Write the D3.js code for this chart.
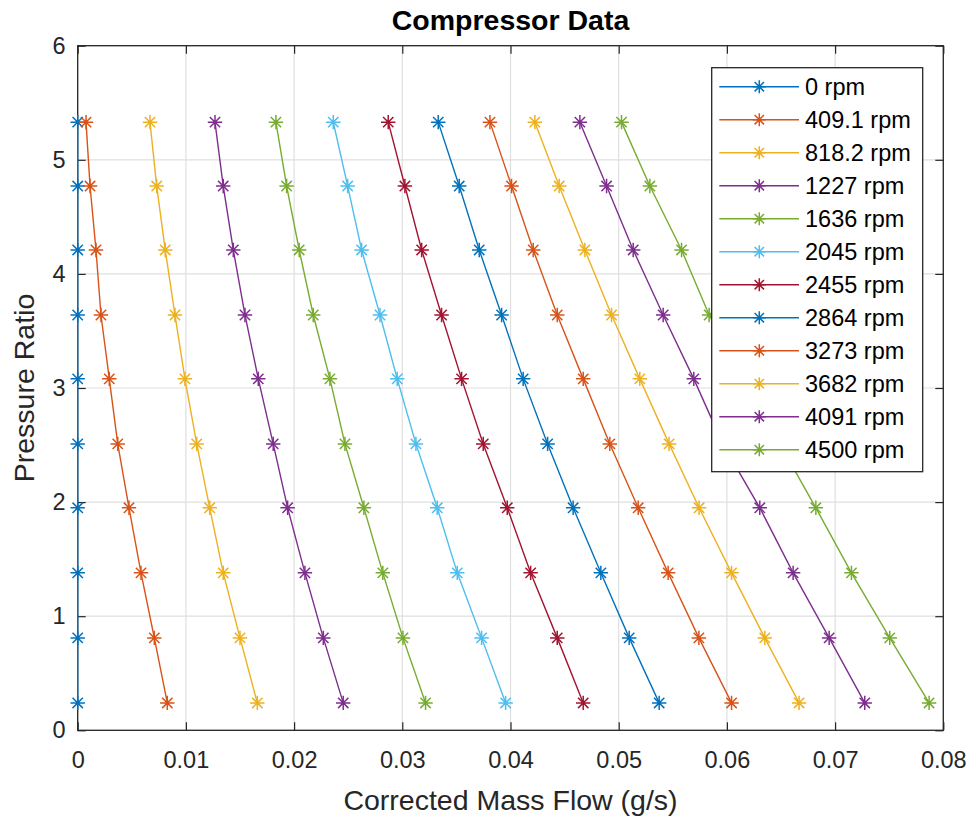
<!DOCTYPE html>
<html>
<head>
<meta charset="utf-8">
<script src="https://cdn.jsdelivr.net/npm/d3@7"></script>
<style>
  html, body { margin: 0; padding: 0; background: #fff; }
  svg { display: block; }
  text { font-family: "Liberation Sans", Arial, Helvetica, sans-serif; }
</style>
</head>
<body>
<svg id="chart" width="976" height="819"></svg>
<script>
// ---------------- data ----------------
const pressureRatio = [0.24, 0.81, 1.38, 1.95, 2.51, 3.08, 3.64, 4.21, 4.77, 5.33];

const speedLabels = ["0 rpm", "409.1 rpm", "818.2 rpm", "1227 rpm", "1636 rpm", "2045 rpm",
                     "2455 rpm", "2864 rpm", "3273 rpm", "3682 rpm", "4091 rpm", "4500 rpm"];

const flow0    = [0, 0, 0, 0, 0, 0, 0, 0, 0, 0];
const flow409  = [0.00828, 0.00708, 0.00585, 0.00474, 0.00370, 0.00292, 0.00215, 0.00169, 0.00114, 0.00077];
const flow818  = [0.01660, 0.01500, 0.01345, 0.01220, 0.01100, 0.00991, 0.00899, 0.00809, 0.00730, 0.00668];
const flow1227 = [0.02454, 0.02270, 0.02100, 0.01940, 0.01807, 0.01669, 0.01546, 0.01438, 0.01345, 0.01269];
const flow1636 = [0.03215, 0.03006, 0.02820, 0.02645, 0.02470, 0.02331, 0.02177, 0.02047, 0.01931, 0.01832];
const flow2045 = [0.03955, 0.03733, 0.03508, 0.03323, 0.03126, 0.02953, 0.02794, 0.02624, 0.02495, 0.02362];
const flow2455 = [0.04672, 0.04432, 0.04186, 0.03970, 0.03748, 0.03548, 0.03363, 0.03179, 0.03024, 0.02870];
const flow2864 = [0.05374, 0.05097, 0.04835, 0.04579, 0.04343, 0.04117, 0.03918, 0.03711, 0.03526, 0.03332];
const flow3273 = [0.06043, 0.05741, 0.05457, 0.05180, 0.04918, 0.04672, 0.04432, 0.04210, 0.04010, 0.03810];
const flow3682 = [0.06667, 0.06350, 0.06043, 0.05743, 0.05466, 0.05195, 0.04934, 0.04687, 0.04450, 0.04225];
const flow4091 = [0.07274, 0.06945, 0.06612, 0.06304, 0.05962, 0.05694, 0.05411, 0.05134, 0.04888, 0.04641];
const flow4500 = [0.07869, 0.07505, 0.07151, 0.06822, 0.06489, 0.06156, 0.05836, 0.05581, 0.05288, 0.05026];

const flows = [flow0, flow409, flow818, flow1227, flow1636, flow2045,
               flow2455, flow2864, flow3273, flow3682, flow4091, flow4500];

const seriesColors = ["#0072BD", "#D95319", "#EDB120", "#7E2F8E", "#77AC30", "#4DBEEE",
                      "#A2142F", "#0072BD", "#D95319", "#EDB120", "#7E2F8E", "#77AC30"];

const xTicks = [0, 0.01, 0.02, 0.03, 0.04, 0.05, 0.06, 0.07, 0.08];
const xTickLabels = ["0", "0.01", "0.02", "0.03", "0.04", "0.05", "0.06", "0.07", "0.08"];
const yTicks = [0, 1, 2, 3, 4, 5, 6];
const yTickLabels = ["0", "1", "2", "3", "4", "5", "6"];

const titleText = "Compressor Data";
const xLabelText = "Corrected Mass Flow (g/s)";
const yLabelText = "Pressure Ratio";

// ---------------- layout ----------------
const L = 77.7, R = 943.3, T = 45.7, B = 730.3;
const axisColor = "#262626";
const gridColor = "#dfdfdf";

const svg = d3.select("#chart");
const x = d3.scaleLinear().domain([0, 0.08]).range([L, R]);
const y = d3.scaleLinear().domain([0, 6]).range([B, T]);

// grid
const grid = svg.append("g");
grid.selectAll("line.gx").data(xTicks).join("line")
  .attr("x1", d => x(d)).attr("x2", d => x(d)).attr("y1", T).attr("y2", B)
  .attr("stroke", gridColor).attr("stroke-width", 1.2);
grid.selectAll("line.gy").data(yTicks).join("line")
  .attr("y1", d => y(d)).attr("y2", d => y(d)).attr("x1", L).attr("x2", R)
  .attr("stroke", gridColor).attr("stroke-width", 1.2);

// axes with inward ticks
function styleAxis(g) {
  g.select(".domain").remove();
  g.selectAll(".tick line").attr("stroke", axisColor).attr("stroke-width", 1.2);
  g.selectAll(".tick text").attr("fill", axisColor).style("font-size", "23.5px");
}
const xFmt = (d, i) => xTickLabels[i];
const yFmt = (d, i) => yTickLabels[i];

svg.append("g").attr("transform", `translate(0,${B})`)
  .call(d3.axisBottom(x).tickValues(xTicks).tickFormat(xFmt).tickSizeInner(-8).tickSizeOuter(0).tickPadding(21))
  .call(styleAxis);
svg.append("g").attr("transform", `translate(0,${T})`)
  .call(d3.axisTop(x).tickValues(xTicks).tickFormat("").tickSizeInner(-8).tickSizeOuter(0))
  .call(styleAxis);
svg.append("g").attr("transform", `translate(${L},0)`)
  .call(d3.axisLeft(y).tickValues(yTicks).tickFormat(yFmt).tickSizeInner(-8).tickSizeOuter(0).tickPadding(12))
  .call(styleAxis);
svg.append("g").attr("transform", `translate(${R},0)`)
  .call(d3.axisRight(y).tickValues(yTicks).tickFormat("").tickSizeInner(-8).tickSizeOuter(0))
  .call(styleAxis);

// box
svg.append("rect").attr("x", L).attr("y", T).attr("width", R - L).attr("height", B - T)
  .attr("fill", "none").attr("stroke", axisColor).attr("stroke-width", 1.3);

// star marker (plus + cross)
function starPath(size) {
  const h = size, d = size * 0.72;
  return `M${-h},0L${h},0M0,${-h}L0,${h}M${-d},${-d}L${d},${d}M${-d},${d}L${d},${-d}`;
}
const markerD = starPath(7.2);

// series
const line = d3.line().x(d => x(d[0])).y(d => y(d[1]));
const seriesG = svg.append("g");
flows.forEach((f, i) => {
  const pts = f.map((v, j) => [v, pressureRatio[j]]);
  const g = seriesG.append("g");
  g.append("path").attr("d", line(pts)).attr("fill", "none")
    .attr("stroke", seriesColors[i]).attr("stroke-width", 1.4);
  g.selectAll("path.m").data(pts).join("path").attr("class", "m")
    .attr("transform", d => `translate(${x(d[0])},${y(d[1])})`)
    .attr("d", markerD).attr("fill", "none")
    .attr("stroke", seriesColors[i]).attr("stroke-width", 1.5);
});

// legend
const lgX = 711.7, lgY = 67.7, lgW = 211, lgH = 404, rowH = 33, row0 = 86.7;
const lg = svg.append("g");
lg.append("rect").attr("x", lgX).attr("y", lgY).attr("width", lgW).attr("height", lgH)
  .attr("fill", "#fff").attr("stroke", axisColor).attr("stroke-width", 1.3);
const rows = lg.selectAll("g.row").data(speedLabels).join("g").attr("class", "row")
  .attr("transform", (d, i) => `translate(0,${row0 + i * rowH})`);
rows.append("line").attr("x1", 719.3).attr("x2", 799).attr("y1", 0).attr("y2", 0)
  .attr("stroke", (d, i) => seriesColors[i]).attr("stroke-width", 1.4);
rows.append("path").attr("transform", "translate(759.3,0)").attr("d", starPath(6.5))
  .attr("fill", "none").attr("stroke", (d, i) => seriesColors[i]).attr("stroke-width", 1.5);
rows.append("text").attr("x", 805).attr("y", 0).attr("dy", "0.35em")
  .style("font-size", "23.5px").attr("fill", "#000").text(d => d);

// title & labels
svg.append("text").attr("x", (L + R) / 2).attr("y", 30).attr("text-anchor", "middle")
  .style("font-size", "28.5px").style("font-weight", "bold").attr("fill", "#000").text(titleText);
svg.append("text").attr("x", (L + R) / 2).attr("y", 810).attr("text-anchor", "middle")
  .style("font-size", "28.5px").attr("fill", axisColor).text(xLabelText);
svg.append("text").attr("transform", `translate(34,${(T + B) / 2}) rotate(-90)`)
  .attr("text-anchor", "middle").style("font-size", "28.5px").attr("fill", axisColor).text(yLabelText);
</script>
</body>
</html>
